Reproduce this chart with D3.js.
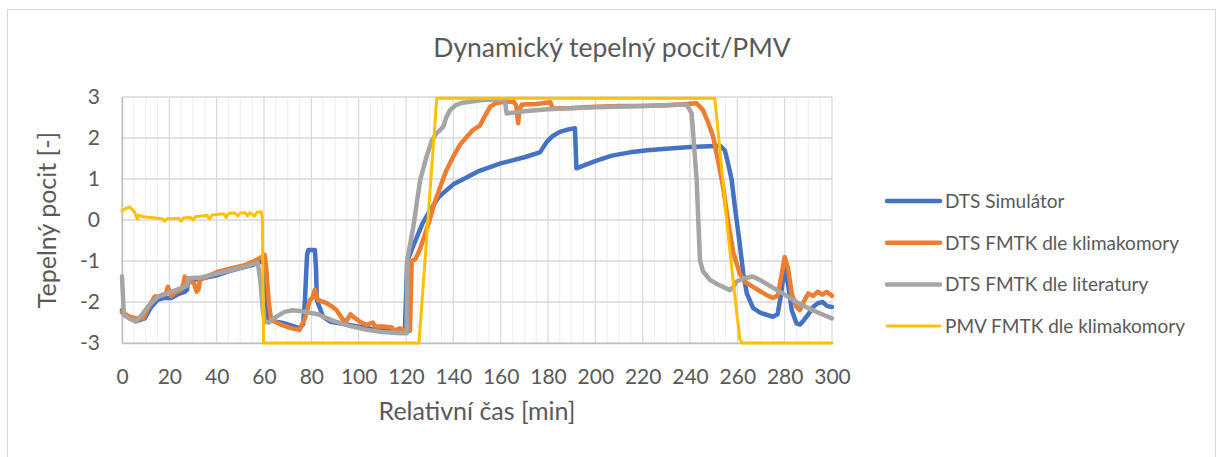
<!DOCTYPE html>
<html>
<head>
<meta charset="utf-8">
<script src="https://cdn.jsdelivr.net/npm/d3@7"></script>
<style>
  body { margin: 0; background: #fff; }
  svg { font-family: Lato, "Open Sans", sans-serif; }
</style>
</head>
<body>
<div id="chart"></div>
<script>
var width = 1221, height = 457;

// time [min], value
var dtsSimulator = [[0,-2.2],[1,-2.3],[4,-2.4],[7,-2.45],[9.6,-2.4],[12,-2.15],[15,-1.95],[18,-1.9],[21,-1.9],[24,-1.8],[26.5,-1.75],[27.5,-1.7],[28,-1.45],[32,-1.45],[36,-1.4],[40,-1.35],[45,-1.25],[50,-1.17],[55,-1.1],[57.5,-1.05],[60,-0.98],[60.8,-1.5],[61.7,-2.4],[65,-2.48],[68.7,-2.52],[72,-2.58],[75,-2.64],[76.5,-2.55],[77.3,-1.95],[78.2,-0.85],[78.7,-0.73],[81.5,-0.73],[82,-1.2],[82.3,-1.95],[85,-2.36],[88,-2.48],[95,-2.55],[105,-2.65],[115,-2.72],[119.5,-2.75],[120.5,-1.0],[124,-0.5],[127,-0.08],[130,0.22],[134,0.57],[140,0.87],[146,1.05],[151,1.2],[160,1.38],[170,1.53],[176.6,1.65],[179.4,1.9],[182,2.05],[185,2.15],[188,2.2],[191.4,2.24],[192,1.26],[196,1.35],[200.5,1.45],[207,1.57],[214.6,1.65],[222,1.7],[230,1.74],[240,1.78],[248,1.8],[252.6,1.81],[254.7,1.7],[256,1.4],[257.6,0.98],[259,0.3],[261,-0.57],[262.5,-1.3],[264,-1.79],[266.7,-2.15],[270,-2.27],[275,-2.36],[277,-2.3],[278.5,-1.8],[280,-1.14],[281.5,-1.6],[283,-2.2],[285,-2.52],[286.5,-2.55],[288,-2.45],[290,-2.3],[292,-2.12],[294,-2.03],[296,-2.0],[298,-2.1],[300,-2.12]];

var dtsKlimakomora = [[0,-2.25],[3,-2.35],[6,-2.4],[8.9,-2.4],[11,-2.15],[13.8,-1.87],[16,-1.85],[18.5,-1.8],[19.4,-1.63],[20.8,-1.85],[23,-1.75],[25,-1.7],[26,-1.55],[26.5,-1.38],[27.5,-1.45],[29,-1.5],[30.5,-1.55],[31.5,-1.75],[32.3,-1.7],[33,-1.45],[36,-1.38],[40.6,-1.26],[46,-1.18],[51.8,-1.1],[56,-1.0],[59,-0.9],[60.3,-0.85],[61,-1.2],[62,-2.0],[63,-2.44],[67,-2.55],[71.5,-2.64],[75,-2.68],[77.3,-2.4],[79.4,-1.95],[80.5,-1.9],[81.5,-1.7],[82.7,-1.95],[86.5,-2.03],[88.5,-2.1],[90.7,-2.2],[93.4,-2.44],[95,-2.45],[96.5,-2.3],[97.7,-2.36],[100.5,-2.48],[103.4,-2.56],[106,-2.5],[107,-2.6],[110.4,-2.6],[114,-2.62],[115,-2.7],[117.5,-2.64],[119,-2.7],[121.7,-2.7],[122.4,-1.0],[124,-0.95],[126,-0.7],[128,-0.35],[130,0.0],[132,0.4],[134.4,0.8],[137,1.2],[140,1.55],[143,1.85],[146,2.05],[148.4,2.2],[151.2,2.3],[153,2.5],[155.5,2.76],[158,2.85],[162.5,2.89],[165.5,2.88],[166.5,2.8],[167.4,2.36],[168,2.7],[169,2.82],[175,2.83],[181,2.87],[182,2.72],[190,2.73],[200,2.76],[210,2.78],[220,2.78],[230,2.8],[236,2.82],[242.8,2.85],[245.5,2.68],[247.5,2.4],[249.8,2.03],[252,1.4],[254,0.8],[256,0.0],[258.3,-0.8],[261,-1.3],[263,-1.5],[266.6,-1.63],[270,-1.75],[273,-1.85],[275,-1.9],[277,-1.85],[278.5,-1.4],[280,-0.9],[281.5,-1.2],[283,-1.8],[285,-2.12],[286.4,-2.2],[288,-2.0],[290,-1.79],[292,-1.85],[294,-1.75],[296,-1.82],[297.7,-1.75],[300,-1.85]];

var dtsLiteratura = [[0,-1.38],[0.8,-2.32],[3,-2.4],[6,-2.48],[8.5,-2.3],[11,-2.11],[15.2,-1.87],[20.8,-1.75],[26.5,-1.63],[27.5,-1.6],[27.9,-1.42],[33.5,-1.4],[40.6,-1.3],[47.6,-1.2],[54,-1.1],[57.4,-1.05],[58.5,-1.5],[59.5,-2.2],[60.3,-2.48],[62,-2.5],[64,-2.4],[68.7,-2.24],[72,-2.2],[75.2,-2.22],[82.8,-2.3],[89.3,-2.46],[96,-2.58],[103.4,-2.68],[110,-2.73],[117.5,-2.76],[120.3,-2.76],[120.5,-0.98],[123,-0.2],[126,0.98],[128.7,1.55],[131,1.95],[133,2.12],[135.7,2.27],[137,2.5],[138.6,2.68],[141,2.8],[144,2.86],[150,2.91],[154,2.93],[161.8,2.93],[162.5,2.6],[170,2.65],[180,2.7],[200,2.75],[220,2.78],[238.6,2.82],[240.7,2.6],[242.8,0.98],[244.2,-0.98],[245.5,-1.25],[248.4,-1.46],[252,-1.58],[256.9,-1.71],[258,-1.65],[259.7,-1.5],[263,-1.42],[266.6,-1.38],[269.5,-1.46],[275,-1.65],[280,-1.82],[285,-2.0],[290,-2.15],[295,-2.28],[300,-2.4]];

var pmvKlimakomora = [[0,0.22],[1.5,0.28],[3.2,0.32],[5,0.22],[6,0.1],[6.5,0.02],[7,0.12],[9,0.08],[12.4,0.06],[15,0.04],[17,0.03],[18,-0.03],[19,0.03],[20.8,0.03],[24,0.04],[25,-0.03],[26,0.05],[29,0.06],[30,0.0],[31,0.08],[33.5,0.1],[36,0.11],[37,0.02],[38,0.12],[41,0.14],[43,0.15],[44,0.06],[45,0.16],[47.6,0.17],[49,0.1],[50,0.17],[52,0.18],[53,0.1],[54,0.18],[56,0.1],[57,0.19],[58.9,0.2],[59.3,0.05],[59.8,-3],[125.5,-3],[133,2.97],[250.5,2.97],[256,-0.3],[260,-2.4],[260.5,-2.6],[261,-2.9],[262,-3],[300,-3]];

var seriesNames = ["DTS Simulátor", "DTS FMTK dle klimakomory", "DTS FMTK dle literatury", "PMV FMTK dle klimakomory"];
var seriesColors = ["#4472C4", "#ED7D31", "#A5A5A5", "#FFC000"];
var seriesWidths = [4.5, 4.5, 4.5, 3];
var xTicks = [0, 20, 40, 60, 80, 100, 120, 140, 160, 180, 200, 220, 240, 260, 280, 300];
var yTicks = [-3, -2, -1, 0, 1, 2, 3];

var allSeries = [dtsSimulator, dtsKlimakomora, dtsLiteratura, pmvKlimakomora];

var svg = d3.select("#chart").append("svg")
    .attr("width", width).attr("height", height);

svg.append("rect")
    .attr("x", 7.5).attr("y", 9.5)
    .attr("width", 1208).attr("height", 460)
    .attr("fill", "#fff").attr("stroke", "#d9d9d9");

var x = d3.scaleLinear().domain([0, 300]).range([122, 832]);
var y = d3.scaleLinear().domain([-3, 3]).range([343, 97]);

// minor vertical grid every 5 min
svg.append("g").selectAll("line")
    .data(d3.range(5, 300, 5).filter(function(d) { return d % 20 != 0; }))
    .enter().append("line")
    .attr("x1", function(d) { return x(d); }).attr("x2", function(d) { return x(d); })
    .attr("y1", y(3)).attr("y2", y(-3))
    .attr("stroke", "#f0f0f0").attr("stroke-width", 1.2);

svg.append("g").selectAll("line")
    .data(xTicks)
    .enter().append("line")
    .attr("x1", function(d) { return x(d); }).attr("x2", function(d) { return x(d); })
    .attr("y1", y(3)).attr("y2", y(-3))
    .attr("stroke", "#d9d9d9").attr("stroke-width", 1.2);

svg.append("g").selectAll("line")
    .data(yTicks)
    .enter().append("line")
    .attr("x1", x(0)).attr("x2", x(300))
    .attr("y1", function(d) { return y(d); }).attr("y2", function(d) { return y(d); })
    .attr("stroke", "#d9d9d9").attr("stroke-width", 1.5);

// axes
var xAxis = svg.append("g")
    .attr("transform", "translate(0," + y(-3) + ")")
    .call(d3.axisBottom(x).tickValues(xTicks).tickSize(0).tickPadding(26)
        .tickFormat(function(d) { return String(d); }));
xAxis.select(".domain").attr("stroke", "#bfbfbf").attr("stroke-width", 1.5);
xAxis.selectAll("text").attr("font-size", 21).attr("fill", "#595959").attr("font-family", "Lato");

var yAxis = svg.append("g")
    .attr("transform", "translate(" + x(0) + ",0)")
    .call(d3.axisLeft(y).tickValues(yTicks).tickSize(0).tickPadding(22)
        .tickFormat(function(d) { return String(d); }));
yAxis.select(".domain").attr("stroke", "#bfbfbf").attr("stroke-width", 1.5);
yAxis.selectAll("text").attr("font-size", 21).attr("fill", "#595959").attr("font-family", "Lato");

var line = d3.line()
    .x(function(d) { return x(d[0]); })
    .y(function(d) { return y(d[1]); });

svg.append("g").selectAll("path")
    .data(allSeries)
    .enter().append("path")
    .attr("d", line)
    .attr("fill", "none")
    .attr("stroke", function(d, i) { return seriesColors[i]; })
    .attr("stroke-width", function(d, i) { return seriesWidths[i]; })
    .attr("stroke-linejoin", "round")
    .attr("stroke-linecap", "round");

svg.append("text")
    .attr("x", 612).attr("y", 57)
    .attr("text-anchor", "middle")
    .attr("font-size", 26.5).attr("fill", "#595959")
    .text("Dynamický tepelný pocit/PMV");

svg.append("text")
    .attr("x", 477).attr("y", 420)
    .attr("text-anchor", "middle")
    .attr("font-size", 25).attr("fill", "#595959")
    .text("Relativní čas [min]");

svg.append("text")
    .attr("transform", "translate(56,220) rotate(-90)")
    .attr("text-anchor", "middle")
    .attr("font-size", 25).attr("fill", "#595959")
    .text("Tepelný pocit [-]");

var legend = svg.append("g").selectAll("g")
    .data(seriesNames)
    .enter().append("g")
    .attr("transform", function(d, i) { return "translate(887," + (201 + i * 41.7) + ")"; });

legend.append("line")
    .attr("x1", 0).attr("x2", 53)
    .attr("stroke", function(d, i) { return seriesColors[i]; })
    .attr("stroke-width", function(d, i) { return seriesWidths[i]; })
    .attr("stroke-linecap", "round");

legend.append("text")
    .attr("x", 58).attr("y", 7)
    .attr("font-size", 19).attr("fill", "#595959")
    .text(function(d) { return d; });
</script>
</body>
</html>
